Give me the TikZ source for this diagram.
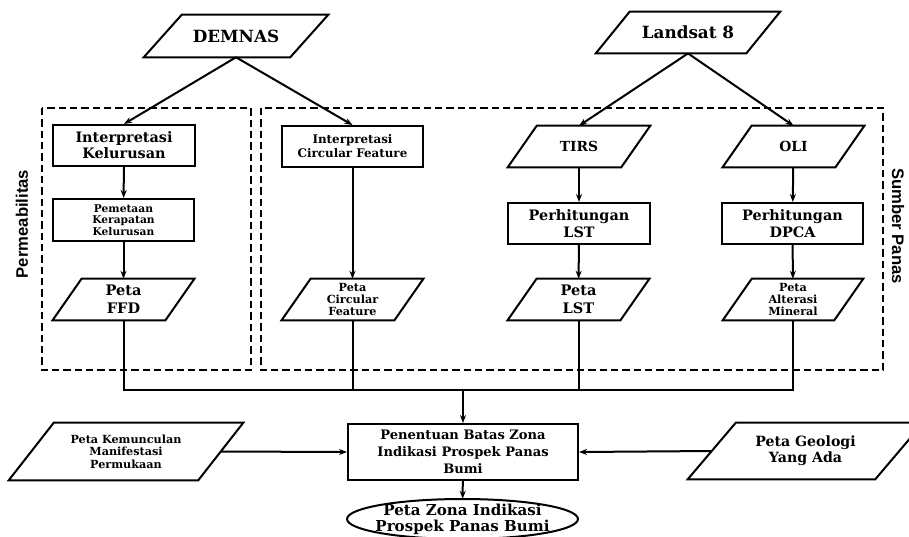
\documentclass[tikz,border=0pt]{standalone}
\usepackage{fontspec}
\setmainfont{DejaVu Serif}
\newfontfamily\sidefont{Liberation Sans}
\usetikzlibrary{arrows.meta}
\newcommand\drawpara[2]{\draw[paraline] ([xshift=#2]#1.north west) -- (#1.north east) -- ([xshift=-#2]#1.south east) -- (#1.south west) -- cycle;}
\tikzset{
  fs/.style 2 args={font=\bfseries\fontsize{#1}{#2}\selectfont},
  procbox/.style={draw, line width=1.5pt, inner sep=0pt, align=center},
  databox/.style={inner sep=0pt, align=center},
  paraline/.style={line width=1.5pt, line join=miter},
  arr/.style={line width=1.5pt, -{Stealth[length=6pt,width=4.5pt]}},
  conn/.style={line width=1.5pt},
  group/.style={line width=1.4pt, dash pattern=on 5.5pt off 3pt},
  sidelabel/.style={font=\sidefont\bfseries\fontsize{12.5}{14}\selectfont, inner sep=0pt}
}
\begin{document}
\begin{tikzpicture}[x=0.75pt,y=-0.75pt]
\useasboundingbox (0,0) rectangle (909,536);
% group frames
\draw[group] (42,108) rectangle (251,370);
\draw[group] (261,108) rectangle (883,370);
\node[sidelabel, rotate=90] (perm) at (22,224) {Permeabilitas};
\node[sidelabel, rotate=-90] (sumb) at (898,226) {Sumber Panas};
% sources
\node[databox, fs={12.6}{14}, minimum width=138pt, minimum height=31.5pt] (dem) at (236,36) {DEMNAS};
\drawpara{dem}{28.5pt}
\node[databox, fs={12.6}{14}, minimum width=138pt, minimum height=31pt] (lan) at (688,32.5) {Landsat 8};
\drawpara{lan}{25.5pt}
% row 1
\node[procbox, fs={10.8}{12}, minimum width=106.5pt, minimum height=30.75pt] (kel) at (124,145.5) {Interpretasi\\Kelurusan};
\node[procbox, fs={8.9}{10.5}, minimum width=106pt, minimum height=30.75pt] (cir) at (352.5,146.5) {Interpretasi\\Circular Feature};
\node[databox, fs={10.4}{12}, minimum width=106.5pt, minimum height=30.75pt] (tirs) at (579,146.5) {TIRS};
\drawpara{tirs}{21.75pt}
\node[databox, fs={10.4}{12}, minimum width=106pt, minimum height=30.75pt] (oli) at (793.5,146.5) {OLI};
\drawpara{oli}{21.75pt}
% row 2
\node[procbox, fs={8}{8.8}, minimum width=106pt, minimum height=31.5pt] (pem) at (123.5,220) {Pemetaan\\Kerapatan\\Kelurusan};
\node[procbox, fs={10.8}{12.5}, minimum width=106.5pt, minimum height=30.75pt] (plst) at (579,223.5) {Perhitungan\\LST};
\node[procbox, fs={10.8}{12.5}, minimum width=106pt, minimum height=30.75pt] (pdpca) at (792.5,223.5) {Perhitungan\\DPCA};
% row 3
\node[databox, fs={10.9}{13.3}, minimum width=106pt, minimum height=30.75pt] (ffd) at (123.5,299.5) {Peta\\FFD};
\drawpara{ffd}{21.75pt}
\node[databox, fs={8.4}{8.8}, minimum width=106pt, minimum height=30.75pt] (pcir) at (352.5,299.5) {Peta\\Circular\\Feature};
\drawpara{pcir}{21.75pt}
\node[databox, fs={10.9}{13.3}, minimum width=106pt, minimum height=30.75pt] (petalst) at (578.5,299.5) {Peta\\LST};
\drawpara{petalst}{21.75pt}
\node[databox, fs={8.4}{8.8}, minimum width=105pt, minimum height=30.75pt] (alt) at (793,299.5) {Peta\\Alterasi\\Mineral};
\drawpara{alt}{21.75pt}
% bottom
\node[procbox, fs={9.8}{12.75}, minimum width=172.5pt, minimum height=42pt] (pen) at (463,452) {Penentuan Batas Zona\\Indikasi Prospek Panas\\Bumi};
\node[databox, fs={8.4}{9.4}, minimum width=175.5pt, minimum height=42.75pt] (kem) at (126,451.5) {Peta Kemunculan\\Manifestasi\\Permukaan};
\drawpara{kem}{33.75pt}
\node[databox, fs={10.6}{12}, minimum width=176.25pt, minimum height=42pt] (geo) at (805.5,451) {Peta Geologi\\Yang Ada};
\drawpara{geo}{36pt}
\node[databox, fs={11.3}{12}, minimum width=173.25pt, minimum height=30pt] (zona) at (462.5,519) {Peta Zona Indikasi\\Prospek Panas Bumi};
\draw[line width=1.5pt] (zona.center) ellipse [x radius=86.6pt, y radius=15pt];
% connectors
\draw[arr] (dem.south) -- (kel.north);
\draw[arr] (dem.south) -- (cir.north);
\draw[arr] (lan.south) -- (tirs.north);
\draw[arr] (lan.south) -- (oli.north);
\draw[arr] (kel) -- (pem);
\draw[arr] (pem) -- (ffd);
\draw[arr] (cir) -- (pcir);
\draw[arr] (tirs) -- (plst);
\draw[arr] (plst) -- (petalst);
\draw[arr] (oli) -- (pdpca);
\draw[arr] (pdpca) -- (alt);
\coordinate (coll) at (463,390);
\draw[conn] (ffd.south) -- (ffd.south |- coll) -- (alt.south |- coll) -- (alt.south);
\draw[conn] (pcir.south) -- (pcir.south |- coll);
\draw[conn] (petalst.south) -- (petalst.south |- coll);
\draw[arr] (coll) -- (pen.north);
\draw[arr] ([xshift=-16.875pt]kem.east) -- (pen.west);
\draw[arr] ([xshift=18pt]geo.west) -- (pen.east);
\draw[arr] (pen) -- (zona);
\end{tikzpicture}
\end{document}
